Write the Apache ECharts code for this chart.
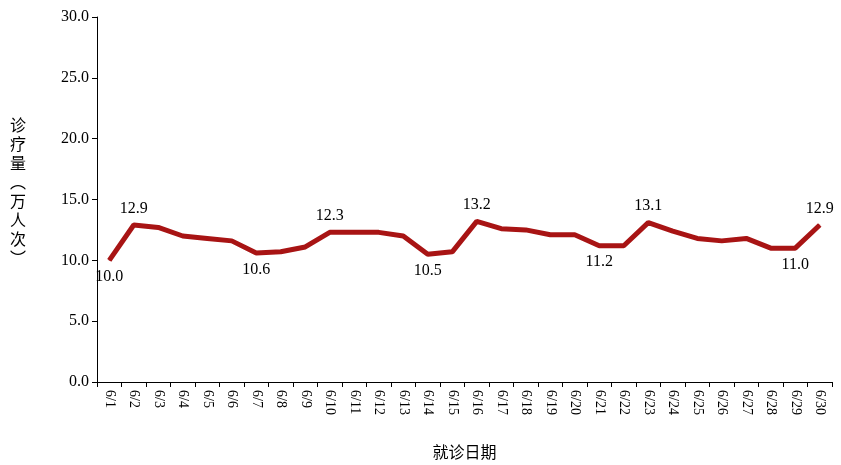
<!DOCTYPE html><html><head><meta charset="utf-8"><script src="https://cdn.jsdelivr.net/npm/echarts@6/dist/echarts.min.js"></script></head><body style="margin:0"><div id="c" style="width:841px;height:465px"></div><script>
const categories=[];for(let i=1;i<=30;i++)categories.push('6/'+i);
const values=[10.0,12.9,12.7,12.0,11.8,11.6,10.6,10.7,11.1,12.3,12.3,12.3,12.0,10.5,10.7,13.2,12.6,12.5,12.1,12.1,11.2,11.2,13.1,12.4,11.8,11.6,11.8,11.0,11.0,12.9];
const labelAbove=[1,9,15,22,29];const labelBelow=[0,6,13,20,28];
const F='"Liberation Serif","Times New Roman",serif';const C='"Noto Sans CJK SC",sans-serif';
const data=values.map((v,i)=>({value:v,label:{show:labelAbove.includes(i)||labelBelow.includes(i),position:labelAbove.includes(i)?'top':'bottom',distance:8}}));
const ch=echarts.init(document.getElementById('c'));
ch.setOption({animation:false,
grid:{left:97,right:9,top:17,bottom:82},
xAxis:{type:'category',data:categories,boundaryGap:true,axisLine:{lineStyle:{color:'#000'}},axisTick:{show:true,interval:0,lineStyle:{color:'#000'}},axisLabel:{interval:0,rotate:-90,color:'#000',fontFamily:F,fontSize:14},
 name:'就诊日期',nameLocation:'middle',nameGap:62,nameTextStyle:{fontFamily:C,fontSize:16,color:'#000'}},
yAxis:{type:'value',min:0,max:30,interval:5,axisLine:{show:true,lineStyle:{color:'#000'}},axisTick:{show:true,lineStyle:{color:'#000'}},splitLine:{show:false},axisLabel:{formatter:v=>v.toFixed(1),color:'#000',fontFamily:F,fontSize:16}},
graphic:[{type:'text',left:10,top:115,style:{text:'诊\n疗\n量\n︵\n万\n人\n次\n︶',font:'16px "Noto Sans CJK SC"',fill:'#000',lineHeight:19}}],
series:[{type:'line',data:data,symbol:'circle',symbolSize:1,showSymbol:true,itemStyle:{color:'#a81414'},lineStyle:{color:'#a81414',width:5},label:{show:false,formatter:p=>p.value.toFixed(1),color:'#000',fontFamily:F,fontSize:16}}]});
</script></body></html>
